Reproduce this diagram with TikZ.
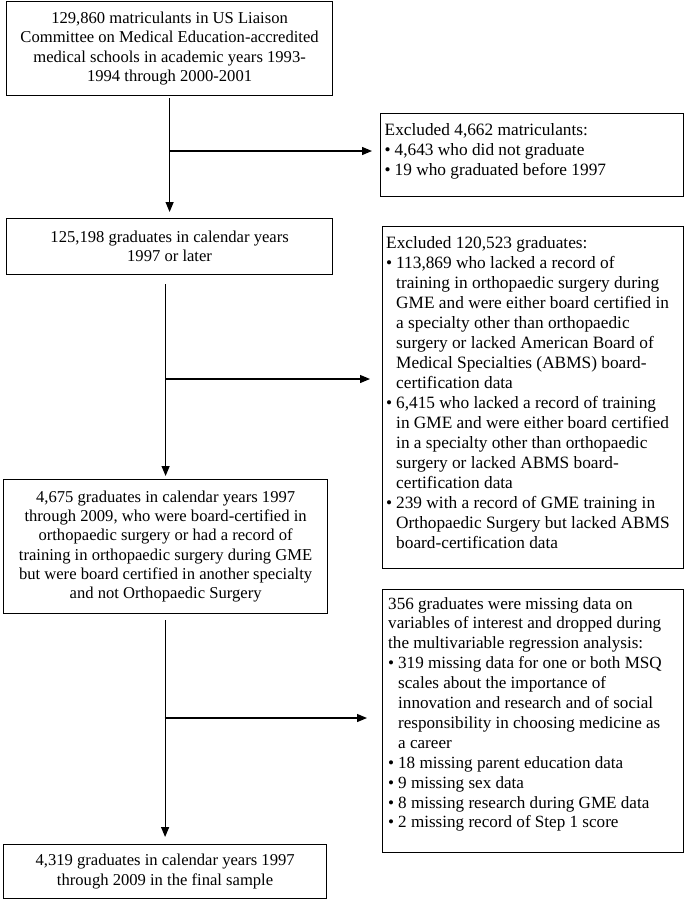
\documentclass[tikz,border=0pt]{standalone}
\usepackage{fontspec}
\setmainfont{Liberation Serif}
\usetikzlibrary{arrows.meta}
\newcommand\bulx{\makebox[10pt][l]{\textbullet}}
\newcommand\hindx{\hspace*{10pt}}
\newcommand\lfontx{\fontsize{16.6}{19.3}\selectfont}
\newcommand\rfontx{\fontsize{17.3}{20}\selectfont}
\newcommand\sfontx{\fontsize{17.1}{19.9}\selectfont}
\newcommand\rtextx[2]{\parbox[t]{310pt}{#1\raggedright #2}}
\begin{document}
\begin{tikzpicture}[x=1pt,y=1pt,
  box/.style={draw, line width=1.2pt, inner sep=0pt, anchor=north west},
  lbox/.style={box, align=center, font=\lfontx},
  rtxt/.style={inner sep=0pt, anchor=base west},
  arr/.style={line width=1.2pt, -{Triangle[length=10pt,width=8pt]}}]
\useasboundingbox (0,0) rectangle (685,-899);
% main boxes
\node[lbox, minimum width=326pt, minimum height=94pt] (b1) at (6,-1)
  {129,860 matriculants in US Liaison\\Committee on Medical Education-accredited\\medical schools in academic years 1993-\\1994 through 2000-2001};
\node[lbox, minimum width=326pt, minimum height=56pt] (b2) at (6,-218)
  {125,198 graduates in calendar years\\1997 or later};
\node[lbox, minimum width=324pt, minimum height=134pt] (b3) at (3,-479)
  {4,675 graduates in calendar years 1997\\through 2009, who were board-certified in\\orthopaedic surgery or had a record of\\training in orthopaedic surgery during GME\\but were board certified in another specialty\\and not Orthopaedic Surgery};
\node[lbox, minimum width=323pt, minimum height=54pt] (b4) at (3,-844)
  {4,319 graduates in calendar years 1997\\through 2009 in the final sample};
% exclusion boxes
\node[box, minimum width=303pt, minimum height=83pt] (e1) at (380,-113) {};
\node[box, minimum width=301pt, minimum height=342pt] (e2) at (382,-226) {};
\node[box, minimum width=301pt, minimum height=263pt] (e3) at (382,-589) {};
\node[rtxt] (t1) at ([shift={(4.5pt,-22pt)}]e1.north west) {\rtextx{\rfontx}{%
Excluded 4,662 matriculants:\\
\bulx 4,643 who did not graduate\\
\bulx 19 who graduated before 1997}};
\node[rtxt] (t2) at ([shift={(4pt,-22pt)}]e2.north west) {\rtextx{\rfontx}{%
Excluded 120,523 graduates:\\
\bulx 113,869 who lacked a record of\\
\hindx training in orthopaedic surgery during\\
\hindx GME and were either board certified in\\
\hindx a specialty other than orthopaedic\\
\hindx surgery or lacked American Board of\\
\hindx Medical Specialties (ABMS) board-\\
\hindx certification data\\
\bulx 6,415 who lacked a record of training\\
\hindx in GME and were either board certified\\
\hindx in a specialty other than orthopaedic\\
\hindx surgery or lacked ABMS board-\\
\hindx certification data\\
\bulx 239 with a record of GME training in\\
\hindx Orthopaedic Surgery but lacked ABMS\\
\hindx board-certification data}};
\node[rtxt] (t3) at ([shift={(6pt,-20pt)}]e3.north west) {\rtextx{\sfontx}{%
356 graduates were missing data on\\
variables of interest and dropped during\\
the multivariable regression analysis:\\
\bulx 319 missing data for one or both MSQ\\
\hindx scales about the importance of\\
\hindx innovation and research and of social\\
\hindx responsibility in choosing medicine as\\
\hindx a career\\
\bulx 18 missing parent education data\\
\bulx 9 missing sex data\\
\bulx 8 missing research during GME data\\
\bulx 2 missing record of Step 1 score}};
% connectors
\draw[arr, shorten <=2pt, shorten >=6pt] (b1.south) -- (b2.north);
\coordinate (j1) at (169,-151);
\draw[arr, shorten >=8pt] (j1) -- (j1 -| e1.west);
\draw[arr, shorten <=9pt, shorten >=3pt] (b3.north |- b2.south) -- (b3.north);
\coordinate (j2) at (165,-379);
\draw[arr, shorten >=12pt] (j2) -- (j2 -| e2.west);
\draw[arr, shorten <=6pt, shorten >=7pt] (b4.north |- b3.south) -- (b4.north);
\coordinate (j3) at (164.5,-718);
\draw[arr, shorten >=15pt] (j3) -- (j3 -| e3.west);
\end{tikzpicture}
\end{document}
